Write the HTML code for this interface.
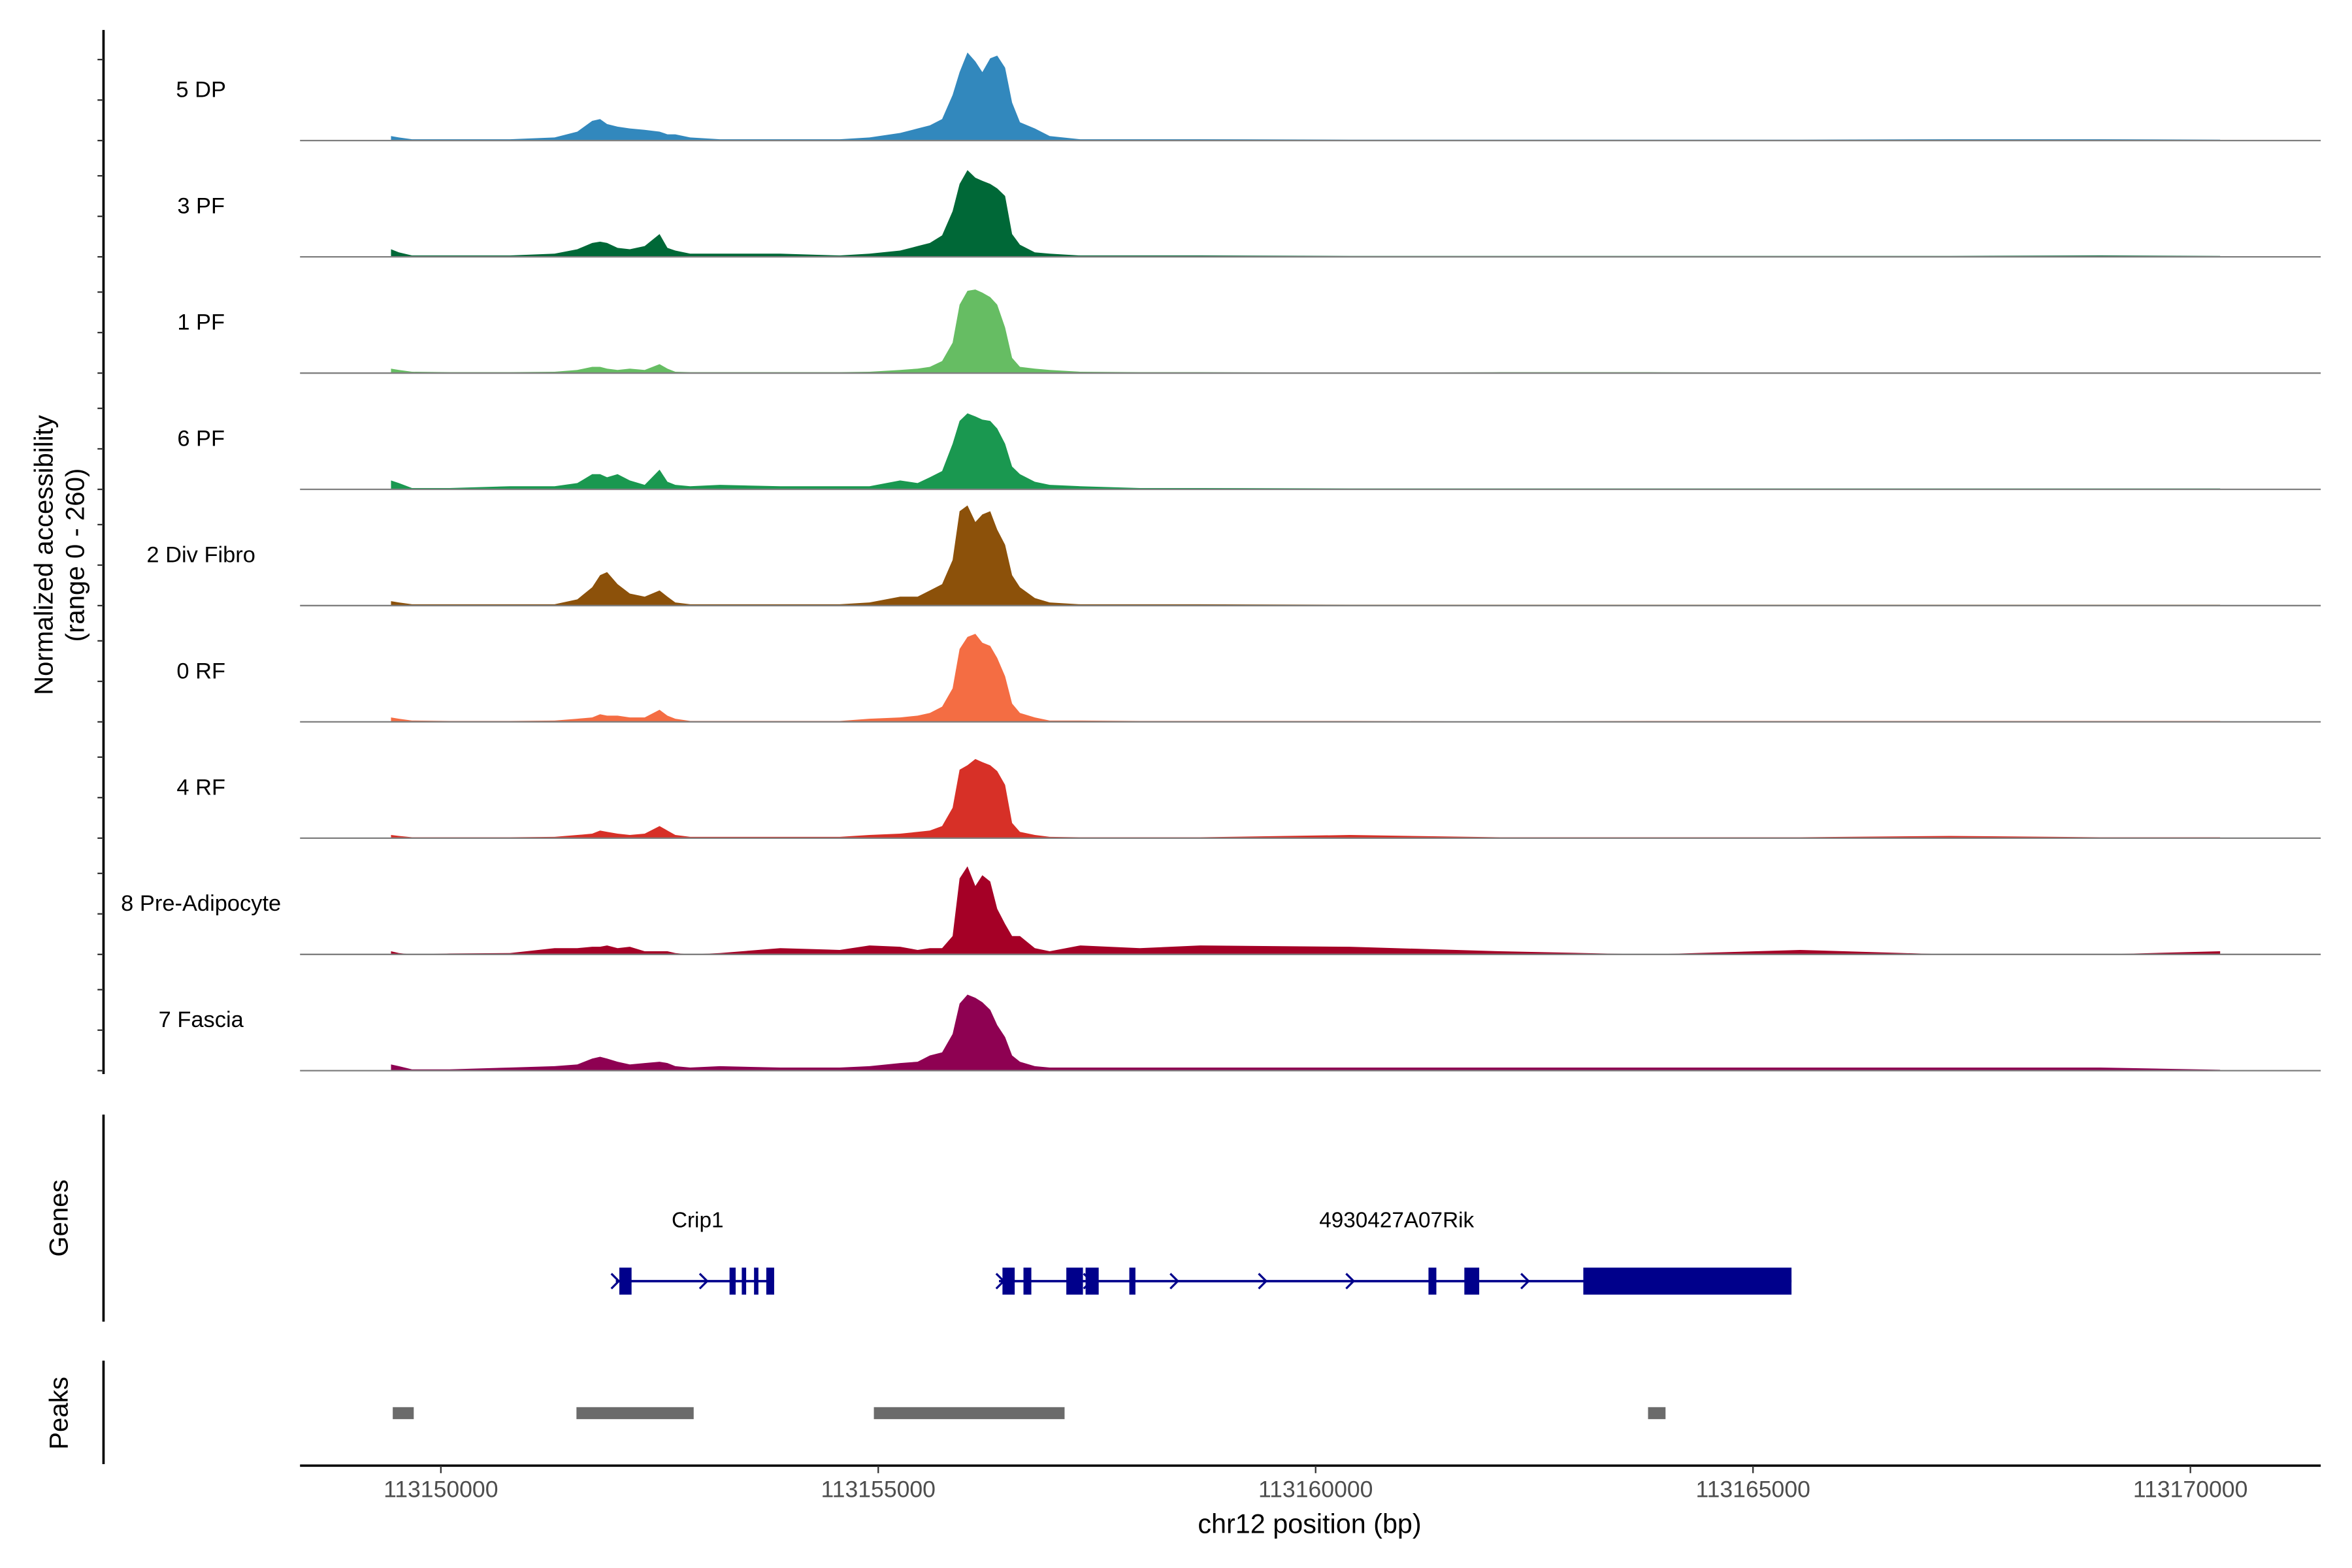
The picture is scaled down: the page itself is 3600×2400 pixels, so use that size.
<!DOCTYPE html>
<html><head><meta charset="utf-8">
<style>html,body{margin:0;padding:0;background:#fff}svg{display:block}</style>
</head><body>
<svg id="chart" xmlns="http://www.w3.org/2000/svg" width="3600" height="2400" viewBox="0 0 1560 1040" font-family="Liberation Sans, Arial, sans-serif">
<rect width="1560" height="1040" fill="#fff"/>
<g transform="scale(0.995)">
<g id="tracks"></g>
<g id="genes"></g>
<g id="peaks"></g>
<g id="axes"></g>
</g>
</svg>
<script>
const positions=[113149430,113149520,113149670,113150100,113150790,113151300,113151560,113151730,113151820,113151900,113152020,113152160,113152330,113152500,113152590,113152680,113152850,113153190,113153880,113154560,113154900,113155250,113155450,113155590,113155730,113155850,113155930,113156020,113156110,113156190,113156280,113156360,113156450,113156530,113156620,113156790,113156960,113157310,113157990,113158680,113160390,113162110,113163820,113165540,113167250,113168970,113170340];
const trackNames=["5 DP","3 PF","1 PF","6 PF","2 Div Fibro","0 RF","4 RF","8 Pre-Adipocyte","7 Fascia"];
const trackColors=["#3288BD","#006837","#66BD63","#1A9850","#8C510A","#F46D43","#D73027","#A50026","#8E0152"];
const sDP5=[10,7,3,3,3,7,20,44,48,37,31,27,24,20,14,14,7,3,3,3,7,17,27,34,48,102,153,197,177,153,184,190,163,85,41,27,10,3,3,3,2,2,2,2,3,3,2];
const sPF3=[17,10,3,3,3,7,17,31,34,31,20,17,24,51,20,14,7,7,7,3,7,14,24,31,48,102,163,194,177,170,163,153,136,51,27,10,7,3,3,3,2,2,2,2,2,3,2];
const sPF1=[10,7,3,2,2,3,7,14,14,10,7,10,7,20,10,3,2,2,2,2,3,7,10,14,27,68,153,184,187,180,170,153,102,34,14,10,7,3,2,2,1,2,2,1,1,1,1];
const sPF6=[20,14,3,3,7,7,14,34,34,27,34,20,10,44,17,10,7,10,7,7,7,20,14,27,41,102,153,170,163,156,153,136,102,51,34,17,10,7,3,3,2,2,2,2,2,2,2];
const sDiv2=[10,7,3,3,3,3,14,41,68,75,48,27,20,34,20,7,3,3,3,3,7,20,20,34,48,102,211,224,187,204,211,170,136,68,41,17,7,3,3,3,2,2,2,2,2,2,2];
const sRF0=[10,7,3,2,2,3,7,10,17,14,14,10,10,27,14,7,2,2,2,2,7,10,14,20,34,75,163,190,197,177,170,143,102,41,20,10,3,3,2,2,2,1,2,2,2,2,2];
const sRF4=[7,5,2,2,2,3,7,10,17,14,10,7,10,27,17,7,3,3,3,3,7,10,14,17,27,68,153,163,177,170,163,150,119,34,14,7,3,2,2,2,7,2,2,2,5,2,2];
const sPre8=[7,3,0,2,3,14,14,17,17,20,14,17,7,7,7,3,0,3,14,10,20,17,10,14,14,41,170,197,153,177,163,102,68,41,41,14,7,20,14,20,17,7,0,10,0,0,7];
const sFas7=[14,10,3,3,7,10,14,27,31,27,20,14,17,20,17,10,7,10,7,7,10,17,20,34,41,82,150,170,163,153,136,102,75,34,20,10,7,7,7,7,7,7,7,7,7,7,2];
const seriesList=[sDP5,sPF3,sPF1,sPF6,sDiv2,sRF0,sRF4,sPre8,sFas7];
const xTicks=[113150000,113155000,113160000,113165000,113170000];
const yMax=260;
const crip1Exons=[[113152040,113152180],[113153300,113153370],[113153440,113153490],[113153580,113153630],[113153720,113153810]];
const crip1Span=[113152000,113153810];
const rikExons=[[113156420,113156560],[113156660,113156750],[113157150,113157340],[113157370,113157520],[113157870,113157940],[113161290,113161380],[113161700,113161870],[113163060,113165440]];
const rikSpan=[113156380,113165440];
const arrowPos=[113152000,113153010,113156400,113157400,113158390,113159400,113160400,113162400];
const peakRegions=[[113149450,113149690],[113151550,113152890],[113154950,113157130],[113163800,113164000]];

const NS="http://www.w3.org/2000/svg";
const X0=200,X1=1547,BP0=113148390,BP1=113171490;
function xs(bp){return X0+(bp-BP0)/(BP1-BP0)*(X1-X0);}
const trackH=77.5, firstBase=93.7;
function mk(tag,attrs,parent){const e=document.createElementNS(NS,tag);for(const k in attrs)e.setAttribute(k,attrs[k]);parent.appendChild(e);return e;}

const tracks=document.getElementById('tracks');
seriesList.forEach((vals,i)=>{
  const base=firstBase+i*trackH;
  const ys=v=>base-v/yMax*trackH;
  let d=`M${xs(positions[0])},${base}`;
  vals.forEach((v,j)=>{d+=` L${xs(positions[j]).toFixed(2)},${ys(v).toFixed(2)}`;});
  d+=` L${xs(positions[positions.length-1])},${base} Z`;
  const p=mk('path',{d:d,fill:trackColors[i]},tracks);
  
  
  const l=mk('line',{x1:X0,x2:X1,y1:base,y2:base,stroke:'#7f7f7f','stroke-width':1},tracks);
  
  
  const t=mk('text',{x:134,y:base-29,'text-anchor':'middle','font-size':15,fill:'#000'},tracks);
  t.textContent=trackNames[i];
  
  
});

const genes=document.getElementById('genes');
const gy=854;
[crip1Span,rikSpan].forEach(s=>{
  const l=mk('line',{x1:xs(s[0]),x2:xs(s[1]),y1:gy,y2:gy,stroke:'#00008B','stroke-width':1.6},genes);
  
  
});
arrowPos.forEach(bp=>{
  const x=xs(bp);
  const a=mk('polyline',{points:`${x-3},${gy-5} ${x+2},${gy} ${x-3},${gy+5}`,fill:'none',stroke:'#00008B','stroke-width':1.4},genes);
  
  
});
crip1Exons.concat(rikExons).forEach(e=>{
  const r=mk('rect',{x:xs(e[0]),y:gy-9,width:Math.max(2.5,xs(e[1])-xs(e[0])),height:18,fill:'#00008B'},genes);
  
  
});
[['Crip1',465],['4930427A07Rik',931]].forEach(g=>{
  const t=mk('text',{x:g[1],y:818,'text-anchor':'middle','font-size':14.5,fill:'#000'},genes);
  t.textContent=g[0];
  
  
});

const peaks=document.getElementById('peaks');
peakRegions.forEach(p=>{
  const r=mk('rect',{x:xs(p[0]),y:938,width:xs(p[1])-xs(p[0]),height:8,fill:'#6b6b6b'},peaks);
  
  
});

const axes=document.getElementById('axes');
function ln(x1,y1,x2,y2,w,c,name){const l=mk('line',{x1,y1,x2,y2,stroke:c||'#000','stroke-width':w||1.5},axes);return l;}
ln(69,20,69,716,1.6,'#000','y-axis-line');
for(let i=0;i<trackNames.length;i++){
  const b=firstBase+i*trackH;
  [0,27,54].forEach(o=>{ln(65,b-o,69,b-o,1,'#333','y-axis-tick');});
}
ln(69,743,69,881,1.6,'#000','genes-axis-line');
ln(69,907,69,976,1.6,'#000','peaks-axis-line');
ln(200,977,1547,977,1.6,'#000','x-axis-line');
xTicks.forEach(v=>{
  const x=xs(v);
  ln(x,977,x,982,1,'#333','x-axis-tick');
  const t=mk('text',{x:x,y:998,'text-anchor':'middle','font-size':15.5,fill:'#4d4d4d'},axes);
  t.textContent=String(v);
  
  
});
function rt(txt,x,y,size,name){const t=mk('text',{x:0,y:0,'text-anchor':'middle','font-size':size,fill:'#000',transform:`translate(${x},${y}) rotate(-90)`},axes);t.textContent=txt;}
rt('Normalized accessibility',35,370,17.5,'y-axis-title');
rt('(range 0 - 260)',56,370,17.5,'y-axis-subtitle');
rt('Genes',45,812,17.5,'genes-axis-title');
rt('Peaks',45,942,17.5,'peaks-axis-title');
const xt=mk('text',{x:873,y:1022,'text-anchor':'middle','font-size':18,fill:'#000'},axes);
xt.textContent='chr12 position (bp)';


</script>
</body></html>
